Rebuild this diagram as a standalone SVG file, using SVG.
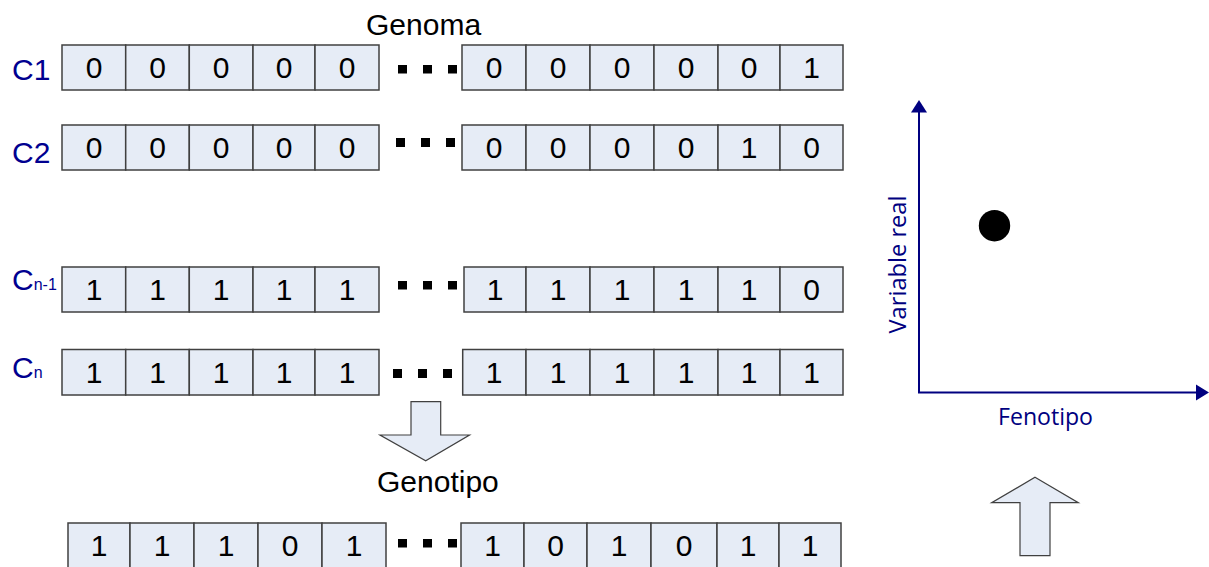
<svg xmlns="http://www.w3.org/2000/svg" width="1209" height="567" viewBox="0 0 1209 567">
<style>
.c{fill:#E6ECF6;stroke:#404040;stroke-width:1.5}
.d{font-family:"Liberation Sans",Arial,sans-serif;font-size:30px;fill:#000;text-anchor:middle}
.t{font-family:"Liberation Sans",Arial,sans-serif;font-size:30px;fill:#000}
.l{font-family:"Liberation Sans",Arial,sans-serif;font-size:30px;fill:#000090}
.s{font-size:16px}
.q{fill:#000}
.ax{stroke:#000080;stroke-width:2;fill:none}
.ah{fill:#000080}
.f{font-family:"Open Sans","Noto Sans",sans-serif;font-size:23px;fill:#000080}
.ba{fill:#E6ECF6;stroke:#404040;stroke-width:1.2}
</style>
<rect width="1209" height="567" fill="#fff"/>
<text class="t" x="366" y="35">Genoma</text>

<g id="row-c1">
<text class="l" x="12" y="80">C1</text>
<rect class="c" x="62" y="45" width="63.7" height="45"/><rect class="c" x="125.7" y="45" width="63.6" height="45"/><rect class="c" x="189.3" y="45" width="63.7" height="45"/><rect class="c" x="253" y="45" width="62" height="45"/><rect class="c" x="315" y="45" width="64" height="45"/>
<rect class="q" x="398" y="65" width="9" height="8.5"/><rect class="q" x="423" y="65" width="9" height="8.5"/><rect class="q" x="448" y="65" width="9" height="8.5"/>
<rect class="c" x="462" y="45" width="64" height="45"/><rect class="c" x="526" y="45" width="64" height="45"/><rect class="c" x="590" y="45" width="64" height="45"/><rect class="c" x="654" y="45" width="64" height="45"/><rect class="c" x="718" y="45" width="62" height="45"/><rect class="c" x="780" y="45" width="63" height="45"/>
<text class="d" y="78"><tspan x="94">0</tspan><tspan x="157.5">0</tspan><tspan x="221">0</tspan><tspan x="284">0</tspan><tspan x="347">0</tspan><tspan x="494">0</tspan><tspan x="558">0</tspan><tspan x="622">0</tspan><tspan x="686">0</tspan><tspan x="749">0</tspan><tspan x="811.5">1</tspan></text>
</g>

<g id="row-c2">
<text class="l" x="12" y="163">C2</text>
<rect class="c" x="62" y="125" width="63.7" height="45"/><rect class="c" x="125.7" y="125" width="63.6" height="45"/><rect class="c" x="189.3" y="125" width="63.7" height="45"/><rect class="c" x="253" y="125" width="62" height="45"/><rect class="c" x="315" y="125" width="64" height="45"/>
<rect class="q" x="396" y="138" width="9" height="9"/><rect class="q" x="421" y="138" width="9" height="9"/><rect class="q" x="446" y="138" width="9" height="9"/>
<rect class="c" x="462" y="125" width="64" height="45"/><rect class="c" x="526" y="125" width="64" height="45"/><rect class="c" x="590" y="125" width="64" height="45"/><rect class="c" x="654" y="125" width="64" height="45"/><rect class="c" x="718" y="125" width="62" height="45"/><rect class="c" x="780" y="125" width="63" height="45"/>
<text class="d" y="158"><tspan x="94">0</tspan><tspan x="157.5">0</tspan><tspan x="221">0</tspan><tspan x="284">0</tspan><tspan x="347">0</tspan><tspan x="494">0</tspan><tspan x="558">0</tspan><tspan x="622">0</tspan><tspan x="686">0</tspan><tspan x="749">1</tspan><tspan x="811.5">0</tspan></text>
</g>

<g id="row-cn-1">
<text class="l" x="12" y="290">C<tspan class="s">n-1</tspan></text>
<rect class="c" x="62" y="267" width="63.7" height="45"/><rect class="c" x="125.7" y="267" width="63.6" height="45"/><rect class="c" x="189.3" y="267" width="63.7" height="45"/><rect class="c" x="253" y="267" width="62" height="45"/><rect class="c" x="315" y="267" width="64" height="45"/>
<rect class="q" x="398" y="281" width="9" height="8.5"/><rect class="q" x="423" y="281" width="9" height="8.5"/><rect class="q" x="448" y="281" width="9" height="8.5"/>
<rect class="c" x="464" y="267" width="62" height="45"/><rect class="c" x="526" y="267" width="64" height="45"/><rect class="c" x="590" y="267" width="64" height="45"/><rect class="c" x="654" y="267" width="64" height="45"/><rect class="c" x="718" y="267" width="62" height="45"/><rect class="c" x="780" y="267" width="63" height="45"/>
<text class="d" y="300"><tspan x="94">1</tspan><tspan x="157.5">1</tspan><tspan x="221">1</tspan><tspan x="284">1</tspan><tspan x="347">1</tspan><tspan x="495">1</tspan><tspan x="558">1</tspan><tspan x="622">1</tspan><tspan x="686">1</tspan><tspan x="749">1</tspan><tspan x="811.5">0</tspan></text>
</g>

<g id="row-cn">
<text class="l" x="12" y="378">C<tspan class="s">n</tspan></text>
<rect class="c" x="62" y="349.5" width="63.7" height="45.5"/><rect class="c" x="125.7" y="349.5" width="63.6" height="45.5"/><rect class="c" x="189.3" y="349.5" width="63.7" height="45.5"/><rect class="c" x="253" y="349.5" width="62" height="45.5"/><rect class="c" x="315" y="349.5" width="64" height="45.5"/>
<rect class="q" x="393" y="369" width="9" height="9"/><rect class="q" x="418" y="369" width="9" height="9"/><rect class="q" x="443" y="369" width="9" height="9"/>
<rect class="c" x="462.7" y="349.5" width="63.3" height="45.5"/><rect class="c" x="526" y="349.5" width="64" height="45.5"/><rect class="c" x="590" y="349.5" width="64" height="45.5"/><rect class="c" x="654" y="349.5" width="64" height="45.5"/><rect class="c" x="718" y="349.5" width="62" height="45.5"/><rect class="c" x="780" y="349.5" width="63" height="45.5"/>
<text class="d" y="383"><tspan x="94">1</tspan><tspan x="157.5">1</tspan><tspan x="221">1</tspan><tspan x="284">1</tspan><tspan x="347">1</tspan><tspan x="494">1</tspan><tspan x="558">1</tspan><tspan x="622">1</tspan><tspan x="686">1</tspan><tspan x="749">1</tspan><tspan x="811.5">1</tspan></text>
</g>

<text class="t" x="377" y="492">Genotipo</text>

<g id="row-genotipo">
<rect class="c" x="68" y="523" width="62" height="45"/><rect class="c" x="130" y="523" width="64" height="45"/><rect class="c" x="194" y="523" width="64" height="45"/><rect class="c" x="258" y="523" width="64" height="45"/><rect class="c" x="322" y="523" width="64" height="45"/>
<rect class="q" x="398" y="539" width="9" height="8.5"/><rect class="q" x="423" y="539" width="9" height="8.5"/><rect class="q" x="448" y="539" width="9" height="8.5"/>
<rect class="c" x="461" y="523" width="63" height="45"/><rect class="c" x="524" y="523" width="63" height="45"/><rect class="c" x="587" y="523" width="64" height="45"/><rect class="c" x="651" y="523" width="66" height="45"/><rect class="c" x="717" y="523" width="62" height="45"/><rect class="c" x="779" y="523" width="62" height="45"/>
<text class="d" y="556"><tspan x="99">1</tspan><tspan x="162">1</tspan><tspan x="226">1</tspan><tspan x="290">0</tspan><tspan x="354">1</tspan><tspan x="492.5">1</tspan><tspan x="555.5">0</tspan><tspan x="619">1</tspan><tspan x="684">0</tspan><tspan x="748">1</tspan><tspan x="810">1</tspan></text>
</g>

<g id="chart">
<line class="ax" x1="919" y1="111" x2="919" y2="392.5"/>
<line class="ax" x1="918" y1="392.5" x2="1197" y2="392.5"/>
<polygon class="ah" points="919,100 911,112.5 927,112.5"/>
<polygon class="ah" points="1209,392.5 1196,384.5 1196,400.5"/>
<circle cx="994.5" cy="225.7" r="15.7" fill="#000"/>
<text class="f" x="998" y="425" textLength="95" lengthAdjust="spacingAndGlyphs">Fenotipo</text>
<text class="f" transform="translate(906,333.5) rotate(-90)" textLength="138" lengthAdjust="spacingAndGlyphs">Variable real</text>
</g>

<g id="connectors">
<polygon class="ba" points="411,401.7 440.7,401.7 440.7,435 469.5,435 425.7,460.7 380,435 411,435"/>
<polygon class="ba" points="1035,477.3 1078.3,502.7 1050,502.7 1050,555.7 1020,555.7 1020,502.7 991.7,502.7"/>
</g>
</svg>
